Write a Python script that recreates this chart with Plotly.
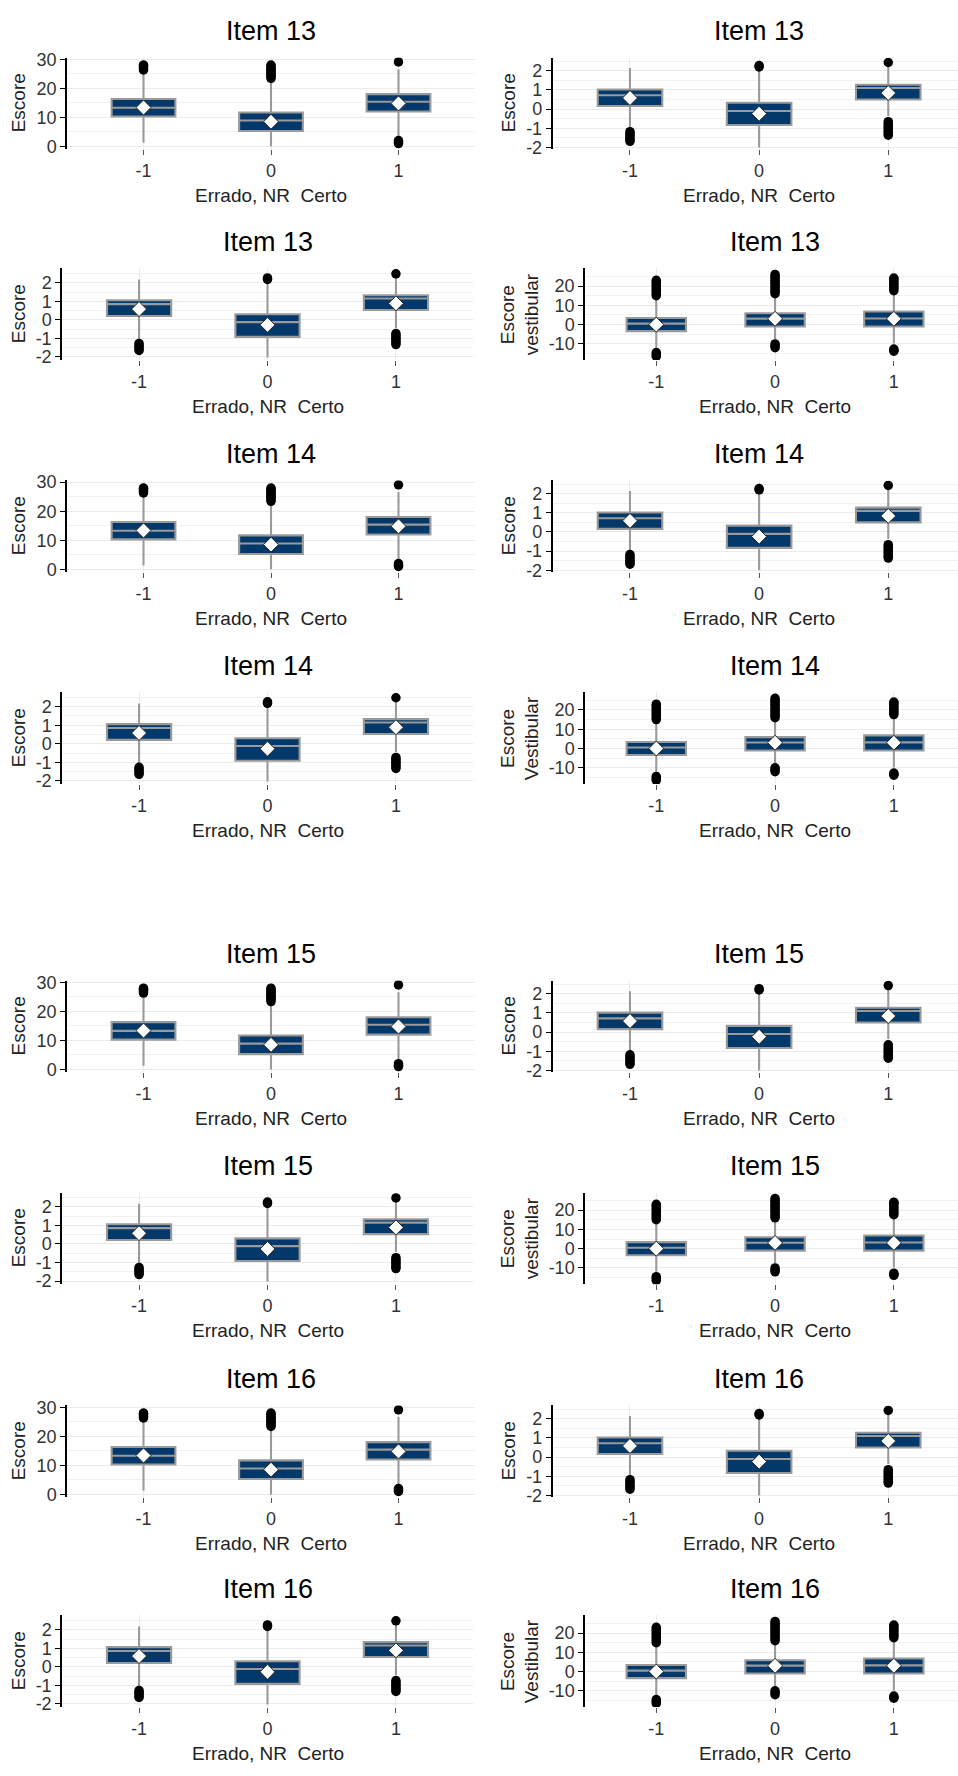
import plotly.graph_objects as go

W, H = 958, 1776

# ---------------------------------------------------------------------------
# Data
# ---------------------------------------------------------------------------
categories = [-1, 0, 1]
category_labels = ["-1", "0", "1"]

# Escore (scale 0-30)
escore_q1 = [10.3, 5.3, 12.0]
escore_median = [13.3, 8.9, 15.4]
escore_q3 = [16.3, 11.7, 18.0]
escore_lower = [1.3, 0.0, 3.2]
escore_upper = [25.8, 22.4, 26.6]
escore_mean = [13.4, 8.5, 14.8]
escore_out_m1 = [26.3, 26.8, 27.3, 27.8, 28.0]
escore_out_0 = [23.4, 24.0, 24.5, 25.0, 25.5, 26.0, 26.5, 27.0, 27.5, 28.0]
escore_out_1 = [1.0, 1.5, 2.0, 29.1]
escore_ticks = [0, 10, 20, 30]
escore_minor = [5, 15, 25]

# Escore padronizado (right column, odd rows)
padr_a_q1 = [0.16, -0.83, 0.50]
padr_a_median = [0.72, -0.10, 1.10]
padr_a_q3 = [1.02, 0.33, 1.27]
padr_a_lower = [-1.05, -2.00, -0.36]
padr_a_upper = [2.14, 2.05, 2.20]
padr_a_mean = [0.58, -0.24, 0.84]
padr_a_out_m1 = [-1.18, -1.28, -1.38, -1.48, -1.58, -1.68]
padr_a_out_0 = [2.20, 2.27]
padr_a_out_1 = [2.43, -0.66, -0.76, -0.86, -0.96, -1.06, -1.16, -1.26, -1.36]

# Escore padronizado (left column, even rows)
padr_b_q1 = [0.21, -0.92, 0.53]
padr_b_median = [0.85, -0.12, 1.15]
padr_b_q3 = [1.06, 0.30, 1.33]
padr_b_lower = [-1.05, -2.03, -0.44]
padr_b_upper = [2.17, 2.03, 2.25]
padr_b_mean = [0.58, -0.27, 0.89]
padr_b_out_m1 = [-1.27, -1.37, -1.47, -1.57, -1.65]
padr_b_out_0 = [2.18, 2.26]
padr_b_out_1 = [2.48, -0.74, -0.84, -0.94, -1.04, -1.14, -1.24, -1.33]

padr_ticks = [-2, -1, 0, 1, 2]
padr_minor = [-1.5, -0.5, 0.5, 1.5, 2.5]

# Escore vestibular
vest_q1 = [-3.4, -1.0, -1.0]
vest_median = [0.5, 3.1, 3.2]
vest_q3 = [3.4, 5.9, 6.8]
vest_lower = [-12.0, -7.5, -9.8]
vest_upper = [13.0, 13.9, 15.6]
vest_mean = [0.0, 3.0, 3.0]
vest_out_m1 = [15, 16, 17, 18, 19, 20, 21, 22, 23, -14.5, -15.5, -16.5]
vest_out_0 = [16, 17, 18, 19, 20, 21, 22, 23, 24, 25, 26, -10, -11, -12]
vest_out_1 = [17.6, 18.6, 19.6, 20.6, 21.6, 22.6, 23.6, 24.1, -12.7, -13.3, -13.8]
vest_ticks = [-10, 0, 10, 20]
vest_minor = [-15, -5, 5, 15, 25]

x_title = "Errado, NR\u00a0 Certo"

# ---------------------------------------------------------------------------
# Series definitions per kind of panel
# ---------------------------------------------------------------------------
kinds = {
    "escore": dict(q1=escore_q1, med=escore_median, q3=escore_q3, lo=escore_lower,
                   hi=escore_upper, mean=escore_mean,
                   outs=[escore_out_m1, escore_out_0, escore_out_1],
                   ticks=escore_ticks, minor=escore_minor, yrange=[-0.93, 30.6]),
    "padr_a": dict(q1=padr_a_q1, med=padr_a_median, q3=padr_a_q3, lo=padr_a_lower,
                   hi=padr_a_upper, mean=padr_a_mean,
                   outs=[padr_a_out_m1, padr_a_out_0, padr_a_out_1],
                   ticks=padr_ticks, minor=padr_minor, yrange=[-2.09, 2.69]),
    "padr_b": dict(q1=padr_b_q1, med=padr_b_median, q3=padr_b_q3, lo=padr_b_lower,
                   hi=padr_b_upper, mean=padr_b_mean,
                   outs=[padr_b_out_m1, padr_b_out_0, padr_b_out_1],
                   ticks=padr_ticks, minor=padr_minor, yrange=[-2.17, 2.77]),
    "vest": dict(q1=vest_q1, med=vest_median, q3=vest_q3, lo=vest_lower,
                 hi=vest_upper, mean=vest_mean,
                 outs=[vest_out_m1, vest_out_0, vest_out_1],
                 ticks=vest_ticks, minor=vest_minor, yrange=[-18.4, 29.1]),
}

# (row index, column, kind, title, y label)
row_tops = [50, 263, 477, 691, 982, 1196, 1411, 1623]
panels = [
    (0, "L", "escore", "Item 13", "Escore"),
    (0, "R", "padr_a", "Item 13", "Escore"),
    (1, "L", "padr_b", "Item 13", "Escore"),
    (1, "R", "vest", "Item 13", "Escore<br>vestibular"),
    (2, "L", "escore", "Item 14", "Escore"),
    (2, "R", "padr_a", "Item 14", "Escore"),
    (3, "L", "padr_b", "Item 14", "Escore"),
    (3, "R", "vest", "Item 14", "Escore<br>Vestibular"),
    (4, "L", "escore", "Item 15", "Escore"),
    (4, "R", "padr_a", "Item 15", "Escore"),
    (5, "L", "padr_b", "Item 15", "Escore"),
    (5, "R", "vest", "Item 15", "Escore<br>vestibular"),
    (6, "L", "escore", "Item 16", "Escore"),
    (6, "R", "padr_a", "Item 16", "Escore"),
    (7, "L", "padr_b", "Item 16", "Escore"),
    (7, "R", "vest", "Item 16", "Escore<br>Vestibular"),
]

# horizontal extent of each plot panel (px) and the x range shown
x_extent = {
    "escore": (67, 475, [-1.6, 1.6]),
    "padr_b": (62, 473, [-1.6, 1.6]),
    "padr_a": (552.5, 958, [-1.6, 1.54]),
    "vest": (585, 958, [-1.6, 1.54]),
}
ytitle_x = {"escore": 18, "padr_b": 18, "padr_a": 508, "vest": 520}

PANEL_H = 92.5
FONT = "Liberation Sans, Arial, sans-serif"
NAVY = "#03386B"
GREY = "#9A9A9A"
GRID = "#EBEBEB"
GRID_MINOR = "#F1F1F1"
TICK_TXT = "#333333"


def py(px):
    return 1 - px / H


fig = go.Figure()
annotations = []
layout_axes = {}

for i, (row, col, kind, title, ylab) in enumerate(panels, start=1):
    k = kinds[kind]
    xs = "" if i == 1 else str(i)
    xref, yref = "x" + xs, "y" + xs
    top = row_tops[row]
    bottom = top + PANEL_H
    x0, x1, xr = x_extent[kind]

    fig.add_trace(go.Box(
        x=categories, q1=k["q1"], median=k["med"], q3=k["q3"],
        lowerfence=k["lo"], upperfence=k["hi"],
        boxpoints=False, width=0.5, whiskerwidth=0,
        fillcolor=NAVY, line=dict(color=GREY, width=2.1),
        showlegend=False, hoverinfo="skip", xaxis=xref, yaxis=yref,
    ))

    ox, oy = [], []
    for c, vals in zip(categories, k["outs"]):
        ox += [c] * len(vals)
        oy += vals
    fig.add_trace(go.Scatter(
        x=ox, y=oy, mode="markers",
        marker=dict(symbol="circle", size=9.5, color="black"),
        showlegend=False, hoverinfo="skip", xaxis=xref, yaxis=yref,
    ))

    fig.add_trace(go.Scatter(
        x=categories, y=k["mean"], mode="markers",
        marker=dict(symbol="diamond", size=11.5, color="white",
                    line=dict(color="#222222", width=1)),
        showlegend=False, hoverinfo="skip", xaxis=xref, yaxis=yref,
    ))

    layout_axes["xaxis" + xs] = dict(
        domain=[x0 / W, x1 / W], range=xr, anchor=yref,
        tickmode="array", tickvals=categories, ticktext=category_labels,
        showgrid=True, gridcolor=GRID, gridwidth=1,
        showline=False, zeroline=False,
        ticks="outside", ticklen=5, tickwidth=1.3, tickcolor="#555555",
        tickfont=dict(family=FONT, size=18, color=TICK_TXT),
        fixedrange=True,
    )
    layout_axes["yaxis" + xs] = dict(
        domain=[py(bottom), py(top)], range=k["yrange"], anchor=xref,
        tickmode="array", tickvals=k["ticks"],
        ticktext=[str(v) for v in k["ticks"]],
        showgrid=True, gridcolor=GRID, gridwidth=1.3,
        minor=dict(tickmode="array", tickvals=k["minor"], showgrid=True,
                   gridcolor=GRID_MINOR, gridwidth=1, ticks=""),
        showline=True, linecolor="black", linewidth=1.5,
        zeroline=False,
        ticks="outside", ticklen=5, tickwidth=1.3, tickcolor="black",
        tickfont=dict(family=FONT, size=18, color=TICK_TXT),
        fixedrange=True,
    )

    # panel title
    annotations.append(dict(
        text=title, xref=xref, x=0, yref="paper", y=py(top - 26.5),
        xanchor="center", yanchor="middle", showarrow=False,
        font=dict(family=FONT, size=27, color="black"),
    ))
    # x-axis title
    annotations.append(dict(
        text=x_title, xref=xref, x=0, yref="paper", y=py(bottom + 47),
        xanchor="center", yanchor="middle", showarrow=False,
        font=dict(family=FONT, size=19, color="#222222"),
    ))
    # y-axis title
    annotations.append(dict(
        text=ylab, xref="paper", x=ytitle_x[kind] / W,
        yref="paper", y=py(top + PANEL_H / 2),
        xanchor="center", yanchor="middle", showarrow=False, textangle=-90,
        font=dict(family=FONT, size=19, color="#222222"),
    ))

fig.update_layout(
    width=W, height=H,
    margin=dict(l=0, r=0, t=0, b=0),
    paper_bgcolor="white", plot_bgcolor="white",
    annotations=annotations,
    showlegend=False,
    **layout_axes,
)

fig.write_html("out.html", config={"displayModeBar": False})
